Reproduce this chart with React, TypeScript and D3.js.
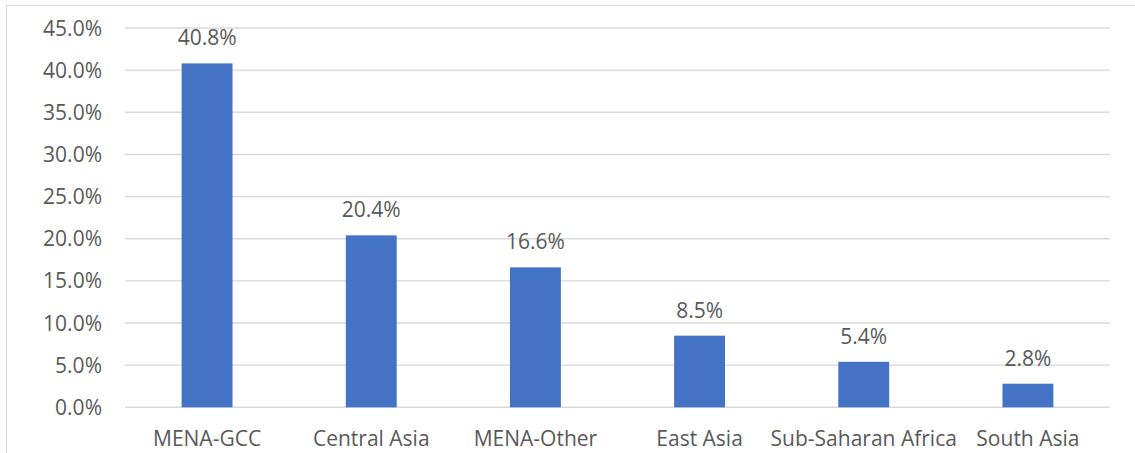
import React from "react";
import * as d3 from "d3";

const categories = ["MENA-GCC", "Central Asia", "MENA-Other", "East Asia", "Sub-Saharan Africa", "South Asia"];
const shares = [40.8, 20.4, 16.6, 8.5, 5.4, 2.8];
const yTicks = [0, 5, 10, 15, 20, 25, 30, 35, 40, 45];

const W = 1135;
const H = 453;
const FONT = "'Open Sans', sans-serif";
const TEXT = "#595959";
const GRID = "#d9d9d9";
const BAR = "#4472C4";

export default function App() {
  const x = d3.scaleBand<string>().domain(categories).range([125, 1110]).paddingInner(0.69).paddingOuter(0.345);
  const y = d3.scaleLinear().domain([0, 45]).range([407.3, 28]);
  const fmt = (v: number) => d3.format(".1f")(v) + "%";

  return (
    <svg width={W} height={H} style={{ position: "absolute", left: 0, top: 0, background: "#fff" }} fontFamily={FONT}>
      <rect x={6.5} y={5.5} width={W + 10} height={H + 10} fill="#fff" stroke={GRID} strokeWidth={1} />
      {yTicks.map((t) => (
        <g key={t}>
          <line x1={125} x2={1110} y1={y(t)} y2={y(t)} stroke={GRID} strokeWidth={1.4} />
          <text x={102} y={y(t)} dy="0.36em" textAnchor="end" fontSize={21} fill={TEXT}>
            {fmt(t)}
          </text>
        </g>
      ))}
      {categories.map((c, i) => (
        <g key={c}>
          <rect x={x(c)} y={y(shares[i])} width={x.bandwidth()} height={y(0) - y(shares[i])} fill={BAR} />
          <text x={x(c)! + x.bandwidth() / 2} y={y(shares[i]) - 18} textAnchor="middle" fontSize={21} fill={TEXT}>
            {fmt(shares[i])}
          </text>
          <text x={x(c)! + x.bandwidth() / 2} y={446} textAnchor="middle" fontSize={21} fill={TEXT}>
            {c}
          </text>
        </g>
      ))}
    </svg>
  );
}
